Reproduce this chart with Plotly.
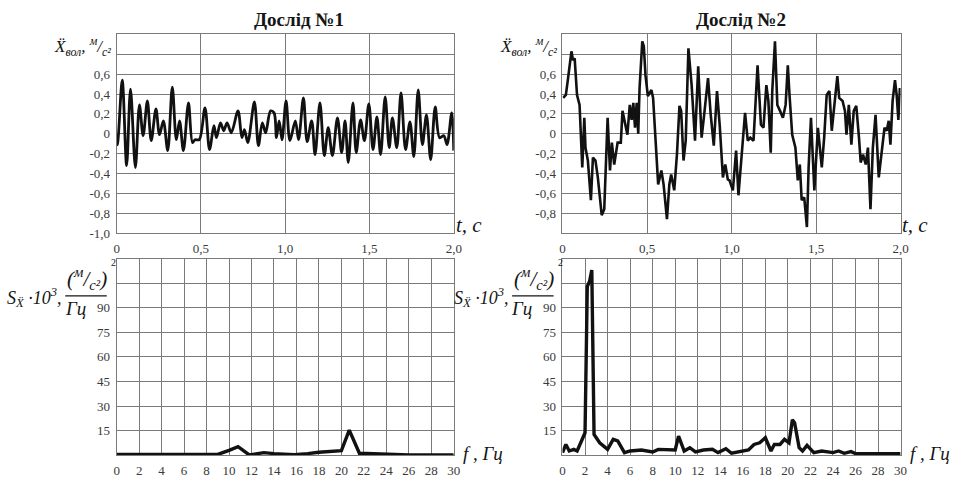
import plotly.graph_objects as go

# ---------------- data ----------------
# Experiment 1: water-borne acceleration, m/s^2, vs time, s
t1 = [0.0, 0.006, 0.033, 0.059, 0.082, 0.111, 0.135, 0.157, 0.182, 0.205, 0.233, 0.254,
      0.277, 0.303, 0.33, 0.354, 0.373, 0.396, 0.426, 0.45, 0.465, 0.49, 0.524, 0.551,
      0.577, 0.592, 0.616, 0.635, 0.655, 0.68, 0.72, 0.743, 0.758, 0.778, 0.817, 0.841,
      0.864, 0.884, 0.913, 0.934, 0.948, 0.964, 0.981, 1.005, 1.028, 1.06, 1.079, 1.108,
      1.13, 1.157, 1.177, 1.206, 1.232, 1.255, 1.28, 1.31, 1.335, 1.355, 1.374, 1.402,
      1.421, 1.447, 1.47, 1.496, 1.521, 1.544, 1.566, 1.593, 1.617, 1.636, 1.662, 1.687,
      1.714, 1.74, 1.763, 1.789, 1.814, 1.838, 1.863, 1.89, 1.916, 1.941, 1.96, 1.988, 2.0]
a1 = [-0.12, -0.09, 0.54, -0.32, 0.45, -0.34, 0.29, -0.02, 0.33, -0.07, 0.25, -0.01,
      0.13, -0.17, 0.47, -0.06, 0.13, -0.17, 0.31, -0.09, -0.06, -0.06, 0.26, -0.16,
      0.08, -0.04, 0.11, 0.03, 0.11, 0.01, 0.23, -0.04, 0.04, -0.09, 0.32, -0.12,
      0.11, 0.01, 0.23, 0.21, -0.04, 0.13, -0.06, 0.33, -0.07, 0.13, -0.06, 0.36,
      -0.08, 0.13, -0.21, 0.31, -0.22, 0.06, -0.22, 0.16, -0.19, 0.13, -0.29, 0.31,
      -0.19, 0.14, -0.07, 0.30, -0.16, 0.17, -0.21, 0.37, -0.14, 0.16, -0.14, 0.41,
      -0.16, 0.12, -0.23, 0.44, -0.11, 0.19, -0.26, 0.27, -0.04, -0.02, -0.11, 0.21, -0.17]

# Experiment 2
t2 = [0.004, 0.02, 0.033, 0.053, 0.062, 0.072, 0.086, 0.101, 0.117, 0.129, 0.136, 0.15,
      0.168, 0.18, 0.195, 0.209, 0.232, 0.247, 0.267, 0.281, 0.292, 0.306, 0.326, 0.345,
      0.355, 0.374, 0.384, 0.398, 0.409, 0.419, 0.429, 0.439, 0.448, 0.456, 0.472, 0.481,
      0.491, 0.505, 0.526, 0.536, 0.546, 0.566, 0.585, 0.598, 0.618, 0.632, 0.643, 0.661,
      0.677, 0.692, 0.702, 0.716, 0.729, 0.745, 0.764, 0.784, 0.803, 0.823, 0.838, 0.861,
      0.877, 0.895, 0.914, 0.93, 0.949, 0.963, 0.978, 0.988, 1.008, 1.018, 1.027, 1.041,
      1.06, 1.08, 1.096, 1.111, 1.13, 1.144, 1.154, 1.174, 1.189, 1.206, 1.218, 1.232,
      1.241, 1.257, 1.271, 1.287, 1.304, 1.32, 1.333, 1.343, 1.359, 1.378, 1.392, 1.404,
      1.415, 1.43, 1.446, 1.456, 1.47, 1.49, 1.511, 1.534, 1.548, 1.563, 1.579, 1.593,
      1.608, 1.626, 1.637, 1.657, 1.671, 1.68, 1.694, 1.709, 1.723, 1.738, 1.754, 1.764,
      1.778, 1.794, 1.807, 1.822, 1.836, 1.852, 1.871, 1.891, 1.905, 1.918, 1.93, 1.94,
      1.953, 1.967, 1.977, 1.987, 1.996]
a2 = [0.36, 0.39, 0.56, 0.83, 0.74, 0.76, 0.39, 0.29, -0.34, 0.16, -0.14, -0.27,
      -0.67, -0.24, -0.27, -0.44, -0.82, -0.76, 0.16, -0.37, -0.09, -0.31, -0.09, -0.09,
      0.23, 0.06, -0.01, 0.29, 0.14, 0.31, 0.06, 0.31, 0.0, 0.46, 0.93, 0.88,
      0.59, 0.38, 0.44, 0.36, 0.06, -0.51, -0.37, -0.51, -0.86, -0.51, -0.41, -0.57,
      -0.21, 0.28, 0.23, -0.27, -0.07, 0.86, 0.49, -0.07, 0.68, -0.04, 0.19, 0.56,
      0.19, -0.12, 0.43, 0.09, -0.44, -0.31, -0.46, -0.47, -0.57, -0.34, -0.17, -0.62,
      -0.24, 0.21, -0.07, -0.04, -0.07, 0.39, 0.69, 0.09, 0.06, 0.49, 0.33, -0.19,
      0.43, 0.93, 0.29, 0.23, 0.16, 0.29, 0.69, 0.39, -0.01, -0.14, -0.47, -0.31,
      -0.67, -0.64, -0.94, -0.34, 0.16, -0.57, 0.06, -0.34, -0.04, 0.39, 0.43, 0.03,
      0.26, 0.58, 0.36, 0.33, 0.23, -0.01, 0.29, -0.11, 0.23, 0.28, -0.04, -0.29,
      -0.21, -0.31, -0.14, -0.76, -0.14, 0.19, -0.44, -0.17, 0.06, 0.03, 0.13, -0.11,
      0.33, 0.54, 0.39, 0.14, 0.46]

# Spectral densities, S*10^3, (m/s^2)^2/Hz, vs frequency, Hz
f1 = [0, 2, 4, 6, 8, 9, 10, 10.8, 11.8, 13.1, 14, 15.8, 17, 18, 20, 20.7, 21.6, 24, 26, 28, 30]
s1 = [0.5, 0.5, 0.5, 0.5, 0.5, 0.5, 3.0, 5.2, 0.2, 1.6, 1.0, 0.4, 1.0, 1.8, 2.8, 15.3, 1.2, 0.6, 0.2, 0.2, 0.2]

f2 = [0, 0.3, 0.6, 1.0, 1.3, 1.7, 2.0, 2.2, 2.4, 2.6, 2.8, 3.3, 4.0, 4.5, 4.9, 5.5, 6.0,
      7.0, 8.0, 8.5, 10.0, 10.3, 10.8, 11.3, 11.8, 12.5, 13.3, 13.8, 14.5, 15.0, 16.5,
      17.0, 17.5, 18.0, 18.5, 18.8, 19.3, 19.7, 20.1, 20.4, 20.6, 21.0, 21.3, 21.7, 22.3,
      23.0, 24.0, 24.5, 25.0, 25.6, 26.0, 28.0, 30.0]
s2 = [1.6, 6.6, 2.6, 3.6, 2.6, 8.7, 13.7, 103, 106, 113, 12.7, 7.6, 3.6, 9.7, 8.7, 1.6, 2.6,
      3.2, 2.0, 3.6, 3.2, 11.7, 2.6, 4.6, 2.0, 3.2, 3.6, 1.6, 4.0, 1.2, 3.2,
      6.6, 7.6, 10.7, 2.6, 6.6, 6.6, 9.7, 7.6, 21.7, 19.7, 4.6, 2.6, 6.0, 1.6,
      2.6, 1.6, 2.6, 1.2, 2.2, 1.0, 1.0, 1.0]

titles = ["Дослід №1", "Дослід №2"]

t_ticks = [0, 0.5, 1.0, 1.5, 2.0]
t_text = ["0", "0,5", "1,0", "1,5", "2,0"]
a_ticks_left = [-1.0, -0.8, -0.6, -0.4, -0.2, 0.0, 0.2, 0.4, 0.6]
a_text_left = ["-1,0", "-0,8", "-0,6", "-0,4", "-0,2", "0", "0,2", "0,4", "0,6"]
a_ticks_right = [-0.8, -0.6, -0.4, -0.2, 0.0, 0.2, 0.4, 0.6]
a_text_right = ["-0,8", "-0,6", "-0,4", "-0,2", "0", "0,2", "0,4", "0,6"]
f_ticks = list(range(0, 31, 2))
f_text = [str(v) for v in f_ticks]
s_ticks = [15, 30, 45, 60, 75, 90]
s_text = ["15", "30", "45", "60", "75", "90"]

# ---------------- layout helpers ----------------
W, H = 957, 478
def px(x):
    return x / W
def py(y):
    return 1 - y / H

GRID = "#7a7a7a"
SERIF = "Liberation Serif"
TICKFONT = dict(family=SERIF, size=13, color="#3a3a3a")

def axis(domain, rng, tickvals, ticktext, anchor, grid_step):
    return dict(domain=domain, range=rng, tickmode="array",
                tickvals=tickvals, ticktext=ticktext,
                showgrid=True, gridcolor=GRID, gridwidth=1, zeroline=False,
                showline=True, linecolor=GRID, linewidth=1, mirror=True,
                ticks="", tickfont=TICKFONT, anchor=anchor, fixedrange=True,
                ticklabelstandoff=3,
                minor=dict(tickmode="linear", tick0=rng[0], dtick=grid_step,
                           showgrid=True, gridcolor=GRID, gridwidth=1, ticks=""))

xd_left = [px(115), px(456)]
xd_right = [px(566), px(908)]
yd_top = [py(237), py(35)]
yd_bot = [py(463), py(263)]

fig = go.Figure()
fig.add_trace(go.Scatter(x=t1, y=a1, mode="lines", xaxis="x", yaxis="y",
                         line=dict(color="#111111", width=2.8, shape="spline", smoothing=0.9)))
fig.add_trace(go.Scatter(x=t2, y=a2, mode="lines", xaxis="x2", yaxis="y2",
                         line=dict(color="#111111", width=2.6)))
fig.add_trace(go.Scatter(x=f1, y=s1, mode="lines", xaxis="x3", yaxis="y3",
                         line=dict(color="#111111", width=3.4)))
fig.add_trace(go.Scatter(x=f2, y=s2, mode="lines", xaxis="x4", yaxis="y4",
                         line=dict(color="#111111", width=3.4)))

annotations = []
shapes = []

def txt(x, y, text, size, italic=True, bold=False):
    if italic:
        text = "<i>" + text + "</i>"
    if bold:
        text = "<b>" + text + "</b>"
    annotations.append(dict(x=px(x), y=py(y), xref="paper", yref="paper", text=text,
                            showarrow=False, xanchor="center", yanchor="middle",
                            font=dict(family=SERIF, size=size, color="#151515")))

title_x = [299, 747]
for k in range(2):
    dx = 452 * k
    txt(title_x[k], 20, titles[k], 19, italic=False, bold=True)
    # acceleration axis label
    txt(80 + dx, 47, "X\u0308<sub>вол</sub>, <sup>м</sup>/<sub>с²</sub>", 17)
    txt(471 + dx, 229, "t, c", 21)
    # spectral density axis label
    txt(32 + dx, 303, "S<sub>X\u0308</sub> ·10<sup>3</sup>,", 18)
    txt(85 + dx, 283, "(<sup>м</sup>/<sub>с²</sub>)", 21)
    txt(112 + dx, 267, "2", 10, italic=False)
    txt(73 + dx, 314, "Гц", 19)
    shapes.append(dict(type="line", xref="paper", yref="paper",
                       x0=px(63 + dx), x1=px(105 + dx), y0=py(301), y1=py(301),
                       line=dict(color="#151515", width=1.3)))
    txt(486 + dx, 461, "f , Гц", 19)

fig.update_layout(
    width=W, height=H,
    margin=dict(l=0, r=0, t=0, b=0),
    paper_bgcolor="white", plot_bgcolor="white",
    showlegend=False,
    xaxis=axis(xd_left, [0, 2], t_ticks, t_text, "y", 0.5),
    yaxis=axis(yd_top, [-1, 1], a_ticks_left, a_text_left, "x", 0.2),
    xaxis2=axis(xd_right, [0, 2], t_ticks, t_text, "y2", 0.5),
    yaxis2=axis(yd_top, [-1, 1], a_ticks_right, a_text_right, "x2", 0.2),
    xaxis3=axis(xd_left, [0, 30], f_ticks, f_text, "y3", 2),
    yaxis3=axis(yd_bot, [0, 120], s_ticks, s_text, "x3", 15),
    xaxis4=axis(xd_right, [0, 30], f_ticks, f_text, "y4", 2),
    yaxis4=axis(yd_bot, [0, 120], s_ticks, s_text, "x4", 15),
    annotations=annotations,
    shapes=shapes,
)

fig.write_html("out.html")
